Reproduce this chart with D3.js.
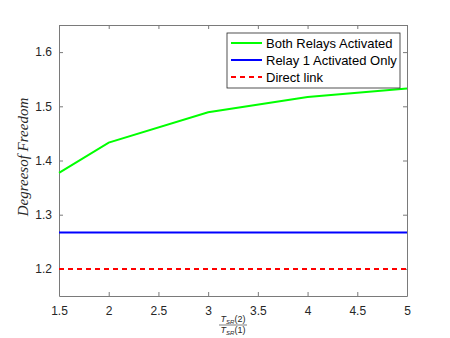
<!DOCTYPE html>
<html>
<head>
<meta charset="utf-8">
<script src="https://d3js.org/d3.v7.min.js"></script>
<style>
  body { margin: 0; background: #fff; }
  text { font-family: "Liberation Sans", Arial, sans-serif; }
</style>
</head>
<body>
<div id="chart"></div>
<script>
// data
const ratios = [1.5, 2, 3, 4, 5];
const bothRelays = [1.377, 1.433, 1.489, 1.517, 1.533];
const relay1Only = [1.267, 1.267, 1.267, 1.267, 1.267];
const directLink = [1.2, 1.2, 1.2, 1.2, 1.2];
const xTicks = [1.5, 2, 2.5, 3, 3.5, 4, 4.5, 5];
const yTicks = [1.2, 1.3, 1.4, 1.5, 1.6];

const series = [
  { name: "Both Relays Activated", values: bothRelays, color: "#00ff00", dash: null },
  { name: "Relay 1 Activated Only", values: relay1Only, color: "#0000ff", dash: null },
  { name: "Direct link", values: directLink, color: "#ff0000", dash: "5,4" }
];

const width = 450, height = 338;
const m = { left: 59, right: 43, top: 25, bottom: 42 };

const svg = d3.select("#chart").append("svg")
  .attr("width", width).attr("height", height);

const x = d3.scaleLinear().domain([1.5, 5]).range([m.left, width - m.right]);
const y = d3.scaleLinear().domain([1.15, 1.65]).range([height - m.bottom, m.top]);

const axisColor = "#262626";

// axes (ticks inward, box all round)
const gx = svg.append("g").attr("transform", `translate(0,${height - m.bottom})`)
  .call(d3.axisBottom(x).tickValues(xTicks).tickSizeInner(-4).tickSizeOuter(0).tickPadding(10).tickFormat(d3.format("")));
const gxTop = svg.append("g").attr("transform", `translate(0,${m.top})`)
  .call(d3.axisTop(x).tickValues(xTicks).tickSizeInner(-4).tickSizeOuter(0).tickFormat(""));
const gy = svg.append("g").attr("transform", `translate(${m.left},0)`)
  .call(d3.axisLeft(y).tickValues(yTicks).tickSizeInner(-4).tickSizeOuter(0).tickPadding(7).tickFormat(d3.format(".1f")));
const gyR = svg.append("g").attr("transform", `translate(${width - m.right},0)`)
  .call(d3.axisRight(y).tickValues(yTicks).tickSizeInner(-4).tickSizeOuter(0).tickFormat(""));

[gx, gxTop, gy, gyR].forEach(g => {
  g.select(".domain").attr("stroke", "#7a7a7a");
  g.selectAll(".tick line").attr("stroke", "#7a7a7a");
  g.selectAll(".tick text").attr("fill", axisColor).style("font-size", "12px")
    .style("font-family", "'Liberation Sans', Arial, sans-serif");
});

// lines
const line = d3.line().x((d, i) => x(ratios[i])).y(d => y(d));
series.forEach(s => {
  svg.append("path").datum(s.values)
    .attr("fill", "none")
    .attr("stroke", s.color)
    .attr("stroke-width", 2)
    .attr("stroke-dasharray", s.dash)
    .attr("d", line);
});

// legend
const lg = svg.append("g").attr("transform", "translate(227,33)");
lg.append("rect").attr("width", 173).attr("height", 55)
  .attr("fill", "#fff").attr("stroke", "#262626").attr("stroke-width", 0.8);
series.forEach((s, i) => {
  const yy = 10 + i * 17;
  lg.append("line").attr("x1", 4).attr("x2", 35).attr("y1", yy).attr("y2", yy)
    .attr("stroke", s.color).attr("stroke-width", 2).attr("stroke-dasharray", s.dash);
  lg.append("text").attr("x", 39).attr("y", yy + 4.5)
    .style("font-size", "13px").attr("fill", "#000").text(s.name);
});

// y label (LaTeX style italic)
svg.append("text")
  .attr("transform", `translate(28,157) rotate(-90)`)
  .attr("text-anchor", "middle")
  .style("font-family", "'Liberation Serif', 'DejaVu Serif', serif")
  .style("font-style", "italic").style("font-size", "15px")
  .attr("fill", "#262626")
  .text("Degreesof Freedom");

// x label as fraction
const fx = (m.left + width - m.right) / 2;
const frac = svg.append("g").attr("transform", `translate(${fx},${height - 14})`)
  .style("font-family", "'Liberation Serif', 'DejaVu Serif', serif")
  .style("font-style", "italic").attr("fill", "#262626");
const numer = frac.append("text").attr("text-anchor", "middle").attr("y", -2).style("font-size", "9px");
numer.append("tspan").text("T");
numer.append("tspan").attr("dy", 2).style("font-size", "6px").text("SR");
numer.append("tspan").attr("dy", -2).style("font-style", "normal").text("(2)");
frac.append("line").attr("x1", -14).attr("x2", 14).attr("y1", 1).attr("y2", 1)
  .attr("stroke", "#262626").attr("stroke-width", 0.6);
const denom = frac.append("text").attr("text-anchor", "middle").attr("y", 9).style("font-size", "9px");
denom.append("tspan").text("T");
denom.append("tspan").attr("dy", 2).style("font-size", "6px").text("SR");
denom.append("tspan").attr("dy", -2).style("font-style", "normal").text("(1)");
</script>
</body>
</html>
